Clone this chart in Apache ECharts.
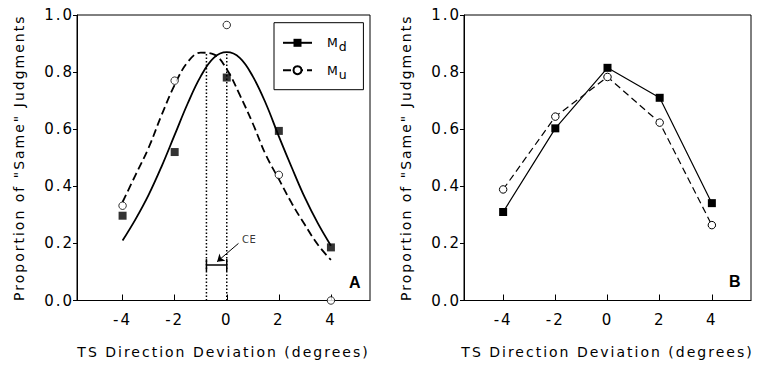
<!DOCTYPE html>
<html><head><meta charset="utf-8">
<script src="https://cdn.jsdelivr.net/npm/echarts@6.0.0/dist/echarts.min.js"></script>
<style>
html,body{margin:0;padding:0;background:#fff;}
#c{width:760px;height:367px;}
#c svg text{letter-spacing:2px;}
#c svg text[style*="10px"], #c svg text[font-size="10"], #c svg text[font-size="10px"]{letter-spacing:0.5px;}
</style></head><body><div id="c"></div>
<script>
// ---- tick labels ----
const xTicks = [-4, -2, 0, 2, 4];
const yTickStep = 0.2;
// ---- Panel A: observed proportions ----
const aX = [-4, -2, 0, 2, 4];
const aMd = [0.297, 0.52, 0.781, 0.594, 0.186];
const aMu = [0.332, 0.770, 0.965, 0.44, 0.0];
// ---- Panel A: fitted curves ----
const curveX = [-4, -3.5, -3, -2.5, -2, -1.5, -1, -0.5, 0, 0.5, 1, 1.5, 2, 2.5, 3, 3.5, 4];
const fitMd = [0.21, 0.285, 0.37, 0.47, 0.58, 0.69, 0.785, 0.85, 0.87, 0.85, 0.785, 0.69, 0.575, 0.465, 0.36, 0.27, 0.192];
const fitMu = [0.345, 0.44, 0.535, 0.65, 0.755, 0.835, 0.868, 0.862, 0.81, 0.72, 0.62, 0.51, 0.425, 0.34, 0.265, 0.195, 0.142];
// ---- Panel A: peak markers and CE annotation ----
const peakX = [-0.78, 0];
const peakY = 0.87;
const ceY = 0.124;
const ceArrow = [[0.45, 0.2], [-0.37, 0.136]];
const ceLabelPos = [0.86, 0.212];
// ---- Panel B: observed proportions ----
const bX = [-4, -2, 0, 2, 4];
const bMd = [0.31, 0.603, 0.815, 0.71, 0.341];
const bMu = [0.389, 0.644, 0.783, 0.623, 0.264];

const FONT = 'DejaVu Sans';
const black = '#000';

function xAxisFor(gi, min, max) {
  return {
    type: 'value', gridIndex: gi, min: min, max: max,
    axisLine: { onZero: false, lineStyle: { color: black, width: 1 } },
    axisTick: { inside: true, length: 6, lineStyle: { color: black, width: 1 }, customValues: xTicks },
    axisLabel: { customValues: xTicks, margin: 12, color: black, fontFamily: FONT, fontSize: 15 },
    splitLine: { show: false },
    name: 'TS Direction Deviation (degrees)', nameLocation: 'middle', nameGap: 44,
    nameTextStyle: { color: black, fontFamily: FONT, fontSize: 14 }
  };
}
function yAxisFor(gi) {
  return {
    type: 'value', gridIndex: gi, min: 0, max: 1, interval: yTickStep,
    axisLine: { show: true, onZero: false, lineStyle: { color: black, width: 1 } },
    axisTick: { show: true, inside: false, length: 4, lineStyle: { color: black, width: 1 } },
    axisLabel: { margin: 3, color: black, fontFamily: FONT, fontSize: 15, formatter: v => v.toFixed(1) },
    splitLine: { show: false },
    name: 'Proportion of "Same" Judgments', nameLocation: 'middle', nameGap: 51,
    nameTextStyle: { color: black, fontFamily: FONT, fontSize: 14 }
  };
}
const pair = (xs, ys) => xs.map((x, i) => [x, ys[i]]);
const squareStyle = { color: black };
const circleStyle = { color: '#fff', borderColor: black, borderWidth: 1 };

const option = {
  backgroundColor: '#fff',
  animation: false,
  grid: [
    { left: 77, top: 15, width: 293, height: 285.5, show: true, borderColor: black, borderWidth: 1, containLabel: false, outerBoundsMode: 'none' },
    { left: 464, top: 15, width: 287, height: 285.5, show: true, borderColor: black, borderWidth: 1, containLabel: false, outerBoundsMode: 'none' }
  ],
  xAxis: [xAxisFor(0, -5.75, 5.5), xAxisFor(1, -5.5, 5.5)],
  yAxis: [yAxisFor(0), yAxisFor(1)],
  legend: {
    data: ['Md', 'Mu'], orient: 'vertical', left: 274, top: 22.7,
    itemWidth: 29, itemHeight: 10, itemGap: 6.4,
    padding: [9.6, 16.7, 9, 8],
    borderColor: black, borderWidth: 1, backgroundColor: '#fff',
    selectedMode: false,
    formatter: name => '{m|M}{s|' + name.slice(1) + '}',
    textStyle: {
      color: black, fontFamily: FONT, fontSize: 12, padding: [0, 0, 0, 10],
      rich: {
        m: { fontFamily: FONT, fontSize: 12.5, lineHeight: 14, color: black },
        s: { fontFamily: FONT, fontSize: 12.5, lineHeight: 14, color: black, padding: [8, 0, 0, 1] }
      }
    }
  },
  graphic: [
    { type: 'text', left: 349, top: 274, style: { text: 'A', font: 'bold 16px "Liberation Sans"', fill: black } },
    { type: 'text', left: 729, top: 273, style: { text: 'B', font: 'bold 16px "Liberation Sans"', fill: black } }
  ],
  series: [
    // fitted curves (legend entries)
    { name: 'Md', type: 'line', xAxisIndex: 0, yAxisIndex: 0, data: pair(curveX, fitMd), smooth: 0.4,
      showSymbol: false, symbol: 'rect', symbolSize: 8, silent: true,
      lineStyle: { color: black, width: 1.8, type: 'solid' }, itemStyle: squareStyle, z: 2 },
    { name: 'Mu', type: 'line', xAxisIndex: 0, yAxisIndex: 0, data: pair(curveX, fitMu), smooth: 0.4,
      showSymbol: false, symbol: 'circle', symbolSize: 8, silent: true,
      lineStyle: { color: black, width: 1.8, type: [8, 4] }, itemStyle: circleStyle, z: 2 },
    // dotted peak lines
    { name: 'peakU', type: 'line', xAxisIndex: 0, yAxisIndex: 0, data: [[peakX[0], 0], [peakX[0], peakY]],
      showSymbol: false, symbol: 'none', silent: true, lineStyle: { color: black, width: 1.5, type: [1.5, 2] }, z: 1 },
    { name: 'peakD', type: 'line', xAxisIndex: 0, yAxisIndex: 0, data: [[peakX[1], 0], [peakX[1], peakY]],
      showSymbol: false, symbol: 'none', silent: true, lineStyle: { color: black, width: 1.5, type: [1.5, 2] }, z: 1 },
    // CE bracket with arrow
    { name: 'CE', type: 'line', xAxisIndex: 0, yAxisIndex: 0, data: [[peakX[0], ceY], [peakX[1], ceY]],
      symbol: 'rect', symbolSize: [1.5, 12], showSymbol: true, silent: true,
      itemStyle: { color: black }, lineStyle: { color: black, width: 1.5 }, z: 3,
      markLine: { silent: true, symbol: ['none', 'arrow'], symbolSize: 7, label: { show: false },
        lineStyle: { color: black, width: 1, type: 'solid' },
        data: [[{ coord: ceArrow[0] }, { coord: ceArrow[1] }]] } },
    { name: 'CElabel', type: 'scatter', xAxisIndex: 0, yAxisIndex: 0, data: [ceLabelPos], symbolSize: 1,
      itemStyle: { color: 'rgba(0,0,0,0)' }, silent: true,
      label: { show: true, position: 'inside', formatter: 'CE', color: black, fontFamily: FONT, fontSize: 10 } },
    // observed data A
    { name: 'Md obs', type: 'scatter', xAxisIndex: 0, yAxisIndex: 0, data: pair(aX, aMd), symbol: 'rect',
      symbolSize: 8, itemStyle: squareStyle, clip: false, z: 5 },
    { name: 'Mu obs', type: 'scatter', xAxisIndex: 0, yAxisIndex: 0, data: pair(aX, aMu), symbol: 'circle',
      symbolSize: 7.5, itemStyle: circleStyle, clip: false, z: 5 },
    // panel B
    { name: 'Mu B', type: 'line', xAxisIndex: 1, yAxisIndex: 1, data: pair(bX, bMu), symbol: 'circle',
      symbolSize: 7.5, showSymbol: true, itemStyle: circleStyle, lineStyle: { color: black, width: 1.2, type: [7, 4] }, z: 4 },
    { name: 'Md B', type: 'line', xAxisIndex: 1, yAxisIndex: 1, data: pair(bX, bMd), symbol: 'rect',
      symbolSize: 8, showSymbol: true, itemStyle: squareStyle, lineStyle: { color: black, width: 1.2, type: 'solid' }, z: 5 }
  ]
};
const chart = echarts.init(document.getElementById('c'), null, { renderer: 'svg' });
chart.setOption(option);
</script></body></html>
